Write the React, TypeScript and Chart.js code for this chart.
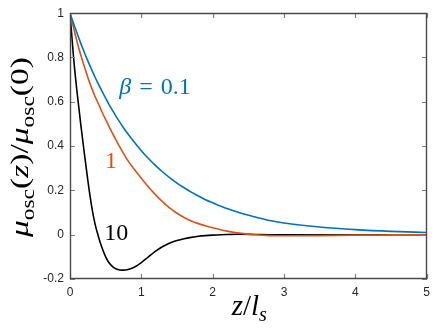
import React, { useEffect, useRef } from 'react';
import { Chart, registerables } from 'chart.js';
Chart.register(...registerables);

const zGrid = [0, 0.05, 0.1, 0.15, 0.2, 0.25, 0.3, 0.35, 0.4, 0.45, 0.5, 0.55, 0.6, 0.65, 0.7, 0.75, 0.8, 0.9, 1.0, 1.1, 1.2, 1.3, 1.4, 1.5, 1.6, 1.7, 1.8, 1.9, 2.0, 2.2, 2.4, 2.6, 2.8, 3.0, 3.5, 4.0, 4.5, 5.0];
const muBeta01 = [1, 0.953, 0.908, 0.865, 0.824, 0.785, 0.748, 0.712, 0.679, 0.647, 0.616, 0.586, 0.559, 0.532, 0.507, 0.483, 0.46, 0.418, 0.379, 0.344, 0.312, 0.283, 0.257, 0.233, 0.212, 0.192, 0.175, 0.158, 0.144, 0.118, 0.097, 0.08, 0.064, 0.053, 0.035, 0.023, 0.015, 0.01];
const muBeta1 = [1, 0.935, 0.87, 0.812, 0.76, 0.71, 0.665, 0.625, 0.59, 0.553, 0.52, 0.487, 0.455, 0.425, 0.395, 0.367, 0.34, 0.295, 0.255, 0.215, 0.18, 0.148, 0.12, 0.097, 0.078, 0.062, 0.05, 0.04, 0.031, 0.016, 0.006, 0, -0.004, -0.005, -0.004, -0.002, -0.001, 0];
const muBeta10 = [1, 0.8, 0.64, 0.5, 0.37, 0.245, 0.135, 0.05, -0.01, -0.06, -0.1, -0.128, -0.145, -0.155, -0.159, -0.16, -0.1585, -0.147, -0.126, -0.1, -0.0745, -0.053, -0.037, -0.026, -0.018, -0.012, -0.007, -0.004, -0.002, 0.001, 0.002, 0.001, 0, 0, 0, 0, 0, 0];

const xTicks = [0, 1, 2, 3, 4, 5];
const xTickLabels = ['0', '1', '2', '3', '4', '5'];
const yTicks = [-0.2, 0, 0.2, 0.4, 0.6, 0.8, 1];
const yTickLabels = ['-0.2', '0', '0.2', '0.4', '0.6', '0.8', '1'];

const seriesColors = ['#0072BD', '#D95319', '#000000'];
// in-plot curve labels: [z, mu] anchor (left, baseline)
const curveLabelAnchors = [
  [0.69, 0.636],
  [0.49, 0.303],
  [0.48, -0.026],
];

type Seg = { t: string; it?: boolean; sub?: boolean };
const curveLabels: Seg[][] = [
  [{ t: 'β', it: true }, { t: '\u2004=\u20040.1' }],
  [{ t: '1' }],
  [{ t: '10' }],
];
const yTitle: Seg[] = [
  { t: 'μ', it: true }, { t: 'osc', sub: true }, { t: '(' }, { t: 'z', it: true }, { t: ')/' },
  { t: 'μ', it: true }, { t: 'osc', sub: true }, { t: '(0)' },
];
const xTitle: Seg[] = [{ t: 'z', it: true }, { t: '/' }, { t: 'l', it: true }, { t: 's', it: true, sub: true }];

const SERIF = '"Liberation Serif", "Times New Roman", serif';

function segFont(s: Seg, size: number) {
  const sz = s.sub ? size * 0.7 : size;
  return `${s.it ? 'italic ' : ''}${sz}px ${SERIF}`;
}
function measureMath(ctx: CanvasRenderingContext2D, segs: Seg[], size: number) {
  let w = 0;
  for (const s of segs) {
    ctx.font = segFont(s, size);
    w += ctx.measureText(s.t).width;
  }
  return w;
}
function drawMath(ctx: CanvasRenderingContext2D, segs: Seg[], x: number, y: number, size: number, align: 'left' | 'center', color: string, stretch = 1) {
  const total = measureMath(ctx, segs, size);
  ctx.save();
  ctx.translate(x, y);
  ctx.scale(stretch, 1);
  let cx = align === 'center' ? -total / 2 : 0;
  ctx.fillStyle = color;
  ctx.textBaseline = 'alphabetic';
  ctx.textAlign = 'left';
  for (const s of segs) {
    ctx.font = segFont(s, size);
    ctx.fillText(s.t, cx, s.sub ? size * 0.22 : 0);
    cx += ctx.measureText(s.t).width;
  }
  ctx.restore();
}

const decorPlugin = {
  id: 'decor',
  afterDraw(chart: any) {
    const ctx: CanvasRenderingContext2D = chart.ctx;
    const a = chart.chartArea;
    const xs = chart.scales.x, ys = chart.scales.y;
    const L = Math.round(a.left), R = Math.round(a.right), T = Math.round(a.top), B = Math.round(a.bottom);
    ctx.save();
    // inward ticks
    ctx.beginPath();
    ctx.strokeStyle = '#808080';
    ctx.lineWidth = 1.2;
    for (const t of xTicks) {
      const px = Math.round(xs.getPixelForValue(t)) + 0.5;
      ctx.moveTo(px, B); ctx.lineTo(px, B - 5);
      ctx.moveTo(px, T); ctx.lineTo(px, T + 5);
    }
    for (const t of yTicks) {
      const py = Math.round(ys.getPixelForValue(t)) + 0.5;
      ctx.moveTo(L, py); ctx.lineTo(L + 5, py);
      ctx.moveTo(R, py); ctx.lineTo(R - 5, py);
    }
    ctx.stroke();
    // box
    ctx.beginPath();
    ctx.strokeStyle = '#4a4a4a';
    ctx.lineWidth = 1.4;
    ctx.rect(L + 0.5, T + 0.5, R - L - 1, B - T - 1);
    ctx.stroke();
    // curve labels
    curveLabels.forEach((segs, i) => {
      const [zx, my] = curveLabelAnchors[i];
      drawMath(ctx, segs, xs.getPixelForValue(zx), ys.getPixelForValue(my), 24, 'left', seriesColors[i]);
    });
    // axis titles
    drawMath(ctx, xTitle, (a.left + a.right) / 2 + 1, 315, 29, 'center', '#000');
    ctx.save();
    ctx.translate(28, (a.top + a.bottom) / 2 + 1);
    ctx.rotate(-Math.PI / 2);
    const w = measureMath(ctx, yTitle, 26);
    drawMath(ctx, yTitle, 0, 0, 26, 'center', '#000', 180 / w);
    ctx.restore();
    ctx.restore();
  },
};

export default function App() {
  const ref = useRef<HTMLCanvasElement>(null);
  useEffect(() => {
    document.body.style.margin = '0';
    const canvas = ref.current!;
    const mk = (vals: number[]) => zGrid.map((z, i) => ({ x: z, y: vals[i] }));
    const chart = new Chart(canvas, {
      type: 'line',
      data: {
        datasets: [muBeta01, muBeta1, muBeta10].map((vals, i) => ({
          data: mk(vals),
          borderColor: seriesColors[i],
          borderWidth: 1.6,
          pointRadius: 0,
          fill: false,
          cubicInterpolationMode: 'monotone' as const,
        })),
      },
      options: {
        responsive: false,
        animation: false,
        events: [],
        layout: { padding: { top: 12, right: 9, left: 0, bottom: 0 } },
        plugins: { legend: { display: false }, tooltip: { enabled: false } },
        scales: {
          x: {
            type: 'linear',
            min: 0,
            max: 5,
            grid: { display: false, drawTicks: false },
            border: { display: false },
            afterBuildTicks: (s: any) => { s.ticks = xTicks.map((v) => ({ value: v })); },
            afterFit: (s: any) => { s.height = 50; },
            ticks: {
              padding: 6,
              maxRotation: 0,
              color: '#262626',
              font: { family: '"Liberation Sans", Arial, sans-serif', size: 12 },
              callback: (v: any) => xTickLabels[xTicks.indexOf(Number(v))] ?? '',
            },
          },
          y: {
            type: 'linear',
            min: -0.2,
            max: 1,
            grid: { display: false, drawTicks: false },
            border: { display: false },
            afterBuildTicks: (s: any) => { s.ticks = yTicks.map((v) => ({ value: v })); },
            afterFit: (s: any) => { s.width = 70; },
            ticks: {
              padding: 6,
              color: '#262626',
              font: { family: '"Liberation Sans", Arial, sans-serif', size: 12 },
              callback: (v: any) => {
                const i = yTicks.findIndex((t) => Math.abs(t - Number(v)) < 1e-9);
                return i >= 0 ? yTickLabels[i] : '';
              },
            },
          },
        },
      },
      plugins: [decorPlugin],
    });
    return () => chart.destroy();
  }, []);
  return <canvas ref={ref} width={436} height={329} style={{ display: 'block', width: 436, height: 329 }} />;
}
